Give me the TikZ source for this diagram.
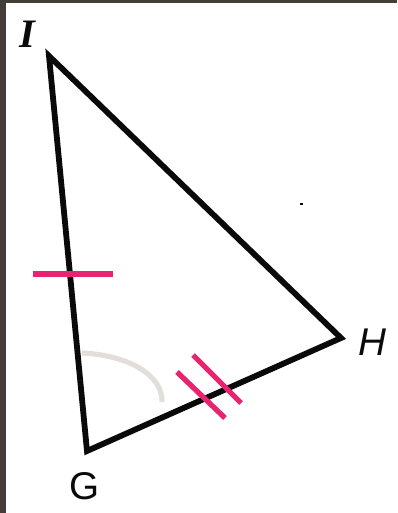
\documentclass[tikz,border=0pt]{standalone}
\usepackage{fontspec}
\setmainfont{Liberation Sans}
\newfontfamily\serifit{Liberation Serif}
\definecolor{ink}{RGB}{10,10,10}
\definecolor{frame}{RGB}{68,62,56}
\definecolor{tick}{RGB}{230,36,112}
\definecolor{arcgrey}{RGB}{226,222,218}
\tikzset{
  side/.style    = {draw=ink, line width=3.3pt, line join=miter},
  tickmark/.style = {draw=tick, line width=3.0pt},
  angarc/.style  = {draw=arcgrey, line width=2.9pt},
  lbl/.style     = {font=\fontsize{22}{24}\selectfont, text=ink, inner sep=0pt},
}
\begin{document}
\begin{tikzpicture}[x=0.02cm, y=-0.02cm]
% ======================================================= canvas and frame
\useasboundingbox (0,0) rectangle (397,513);
\fill[white] (0,0) rectangle (397,513);
\fill[frame] (0,0) rectangle (397,3);
\fill[frame] (0,0) rectangle (6,513);

% ======================================================= triangle
\coordinate (I) at (49,56);
\coordinate (G) at (87,451);
\coordinate (H) at (341,338);
\draw[side] (I) -- (G) -- (H) -- cycle;

\node[lbl, font=\fontsize{23}{24}\selectfont\serifit\itshape\bfseries] (lI) at (27,34) {I};
\node[lbl] (lG) at (85,486) {G};
\node[lbl, font=\fontsize{22}{24}\selectfont\itshape] (lH) at (372,342) {H};

% ======================================================= marks
% single tick on IG, double tick on GH
\draw[tickmark] (33,274) -- (113,274);
\draw[tickmark] (177,372) -- (225,418);
\draw[tickmark] (193,355) -- (241,403);

% angle at G
\draw[angarc] (82,353) .. controls (128,355) and (163,375) .. (162,402);

% stray speck
\fill[ink] (300,203) rectangle (303,205);
\end{tikzpicture}
\end{document}
